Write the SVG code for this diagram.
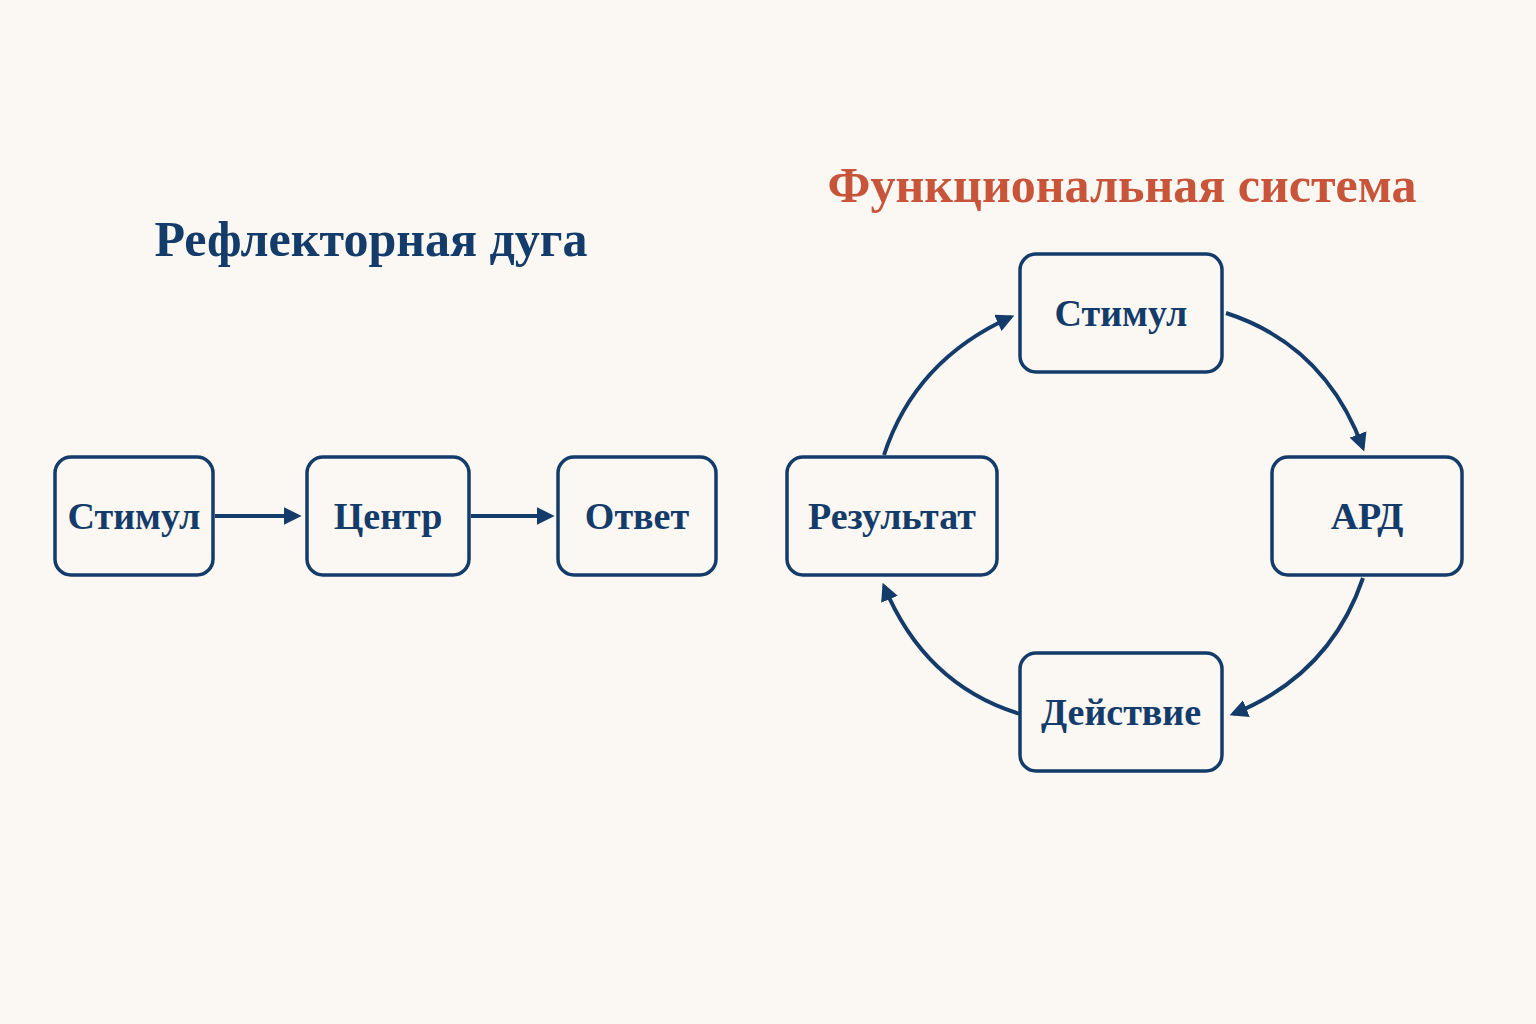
<svg xmlns="http://www.w3.org/2000/svg" width="1536" height="1024" viewBox="0 0 1536 1024">
<defs>
<marker id="ah" viewBox="0 0 10 10" refX="8" refY="5" markerWidth="4.5" markerHeight="4.5" markerUnits="strokeWidth" orient="auto"><path d="M0,0 L10,5 L0,10 Z" fill="#143c6b"/></marker>
<style>
.box{fill:#fbf7f2;stroke:#143c6b;stroke-width:3.5}
.lb{font-family:"Liberation Serif",serif;font-weight:bold;font-size:38px;fill:#143c6b;text-anchor:middle;dominant-baseline:central}
.c{fill:none;stroke:#143c6b;stroke-width:4;marker-end:url(#ah)}
</style>
</defs>
<rect width="1536" height="1024" fill="#fbf7f2"/>
<text x="371" y="256" font-family="Liberation Serif,serif" font-weight="bold" font-size="50" fill="#143c6b" text-anchor="middle">Рефлекторная дуга</text>
<text x="1122" y="202" font-family="Liberation Serif,serif" font-weight="bold" font-size="50" fill="#c8553a" text-anchor="middle">Функциональная система</text>
<g id="l1"><rect class="box" x="55" y="457" width="158" height="118" rx="16"/><text class="lb" x="134" y="516">Стимул</text></g>
<g id="l2"><rect class="box" x="307" y="457" width="162" height="118" rx="16"/><text class="lb" x="388" y="516">Центр</text></g>
<g id="l3"><rect class="box" x="558" y="457" width="158" height="118" rx="16"/><text class="lb" x="637" y="516">Ответ</text></g>
<g id="r1"><rect class="box" x="1020" y="254" width="202" height="118" rx="16"/><text class="lb" x="1121" y="313">Стимул</text></g>
<g id="r2"><rect class="box" x="1272" y="457" width="190" height="118" rx="16"/><text class="lb" x="1367" y="516">АРД</text></g>
<g id="r3"><rect class="box" x="1020" y="653" width="202" height="118" rx="16"/><text class="lb" x="1121" y="712">Действие</text></g>
<g id="r4"><rect class="box" x="787" y="457" width="210" height="118" rx="16"/><text class="lb" x="892" y="516">Результат</text></g>
<g id="connectors">
<path class="c" d="M215,516 L298,516"/>
<path class="c" d="M471,516 L551,516"/>
<path class="c" d="M1226,313 Q1325,345 1363,448"/>
<path class="c" d="M1363,578 Q1330,675 1233,714"/>
<path class="c" d="M1020,714 Q925,685 884,586"/>
<path class="c" d="M884,455 Q915,360 1011,317"/>
</g>
</svg>
